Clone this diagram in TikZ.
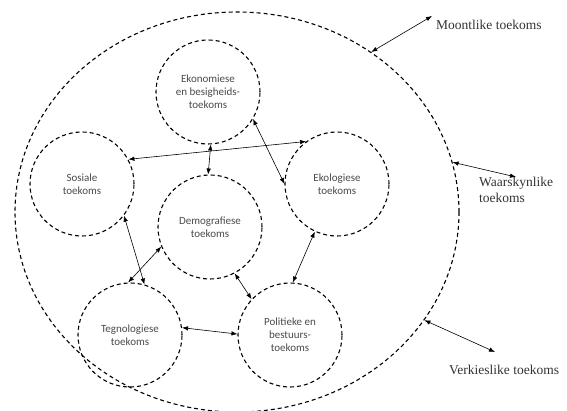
\documentclass[tikz,border=0pt]{standalone}
\usepackage{fontspec}
\setmainfont{Liberation Serif}
\newfontfamily\circfont{Carlito}
\usetikzlibrary{arrows.meta,shapes.geometric}
\definecolor{circtext}{HTML}{4A4A4A}
\definecolor{outtext}{HTML}{333333}
\tikzset{
  future/.style={circle,draw,line width=1.1pt,dash pattern=on 4pt off 3pt,minimum size=104pt,inner sep=0pt,
    align=center,font=\circfont\fontsize{11}{13}\selectfont,text=circtext},
  outerset/.style={ellipse,draw,line width=1.1pt,dash pattern=on 4pt off 3pt,minimum width=444pt,minimum height=400pt,inner sep=0pt},
  link/.style={line width=0.6pt,{Latex[length=6pt,width=4.5pt]}-{Latex[length=6pt,width=4.5pt]}},
  outlabel/.style={font=\fontsize{13.5}{16}\selectfont,text=outtext,inner sep=0pt,align=left}
}
\begin{document}
\begin{tikzpicture}[x=1pt,y=-1pt]
\useasboundingbox (0,0) rectangle (567,411);
\node[outerset] (outer) at (237,212) {};
\node[future] (E) at (208,92) {Ekonomiese\\en besigheids-\\toekoms};
\node[future] (S) at (82,184) {Sosiale\\toekoms};
\node[future] (K) at (337,184) {Ekologiese\\toekoms};
\node[future] (D) at (210,227) {Demografiese\\toekoms};
\node[future] (T) at (130,335) {Tegnologiese\\toekoms};
\node[future] (P) at (290,335) {Politieke en\\bestuurs-\\toekoms};

\node[outlabel,anchor=west] (ml) at (436,25) {Moontlike toekoms};
\node[outlabel,anchor=north west] (wl) at (479,177) {Waarskynlike\\toekoms};
\node[outlabel,anchor=west] (vl) at (449,370) {Verkieslike toekoms};

\coordinate (mEnd) at (432,16);
\coordinate (wEnd) at (516,177);
\coordinate (vEnd) at (495,352);

\draw[link] (outer.50) -- (mEnd);
\draw[link] (outer.13.2) -- (wEnd);
\draw[link] (outer.-30.3) -- (vEnd);

\draw[link] (S.28.5) -- (K.126.7);
\draw[link] (E.-87) -- (D.92);
\draw[link] (E.-31.5) -- (K.180);
\draw[link] (S.-37.5) -- (T.74);
\draw[link] (D.-158) -- (T.92);
\draw[link] (D.-62.5) -- (P.137.4);
\draw[link] (K.-115) -- (P.87);
\draw[link] (T.8.6) -- (P.179);
\end{tikzpicture}
\end{document}
